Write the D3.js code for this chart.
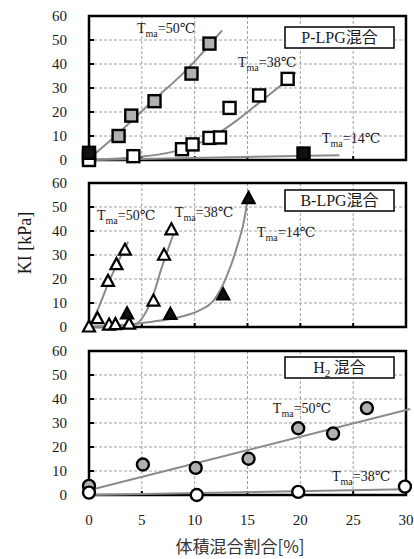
<!DOCTYPE html>
<html>
<head>
<meta charset="utf-8">
<script src="https://cdn.jsdelivr.net/npm/d3@7/dist/d3.min.js"></script>
<style>
body { margin: 0; background: #fff; }
svg text { font-family: "Liberation Serif", "Times New Roman", "DejaVu Serif", serif; fill: #1a1a1a; }
svg text.cjk { font-family: "Liberation Serif", "Noto Sans CJK JP", serif; }
</style>
</head>
<body>
<div id="chart"></div>
<script>
// tick labels
var xTicks = [0, 5, 10, 15, 20, 25, 30];
var yTicks = [0, 10, 20, 30, 40, 50, 60];

// P-LPG  (squares)
var pLpg50 = [[0, 1.5], [2.8, 10], [4, 18.5], [6.2, 24.5], [9.7, 36], [11.4, 48.5]];
var pLpg38 = [[0, 0], [4.2, 1.6], [8.8, 4.5], [9.8, 6.5], [11.4, 9.2], [12.4, 9.4], [13.3, 21.7], [16.1, 26.9], [18.8, 33.8]];
var pLpg14 = [[0, 3], [20.3, 2.7]];
var pLpg50Fit = [[0, 0.5], [3, 12], [6, 24.5], [9, 36.5], [12.6, 54]];
var pLpg38Fit = [[0, 0], [4, 1], [8, 3.5], [10, 6.2], [12, 10.5], [14, 16.5], [16, 23.5], [18, 30.5], [19.6, 36.5]];
var pLpg14Fit = [[0, 0], [23.7, 2]];

// B-LPG  (triangles)
var bLpg50 = [[0, 0], [0.8, 3.5], [1.8, 19], [2.6, 26], [3.4, 32]];
var bLpg38 = [[1.9, 0.8], [2.5, 1], [3.8, 1.2], [6.1, 10.8], [7.1, 29.9], [7.8, 40.5]];
var bLpg14 = [[3.6, 5.5], [7.7, 5.3], [12.7, 13.4], [15.1, 53.5]];
var bLpg50Fit = [[0, 0], [0.9, 8], [1.8, 18], [2.8, 27.5], [3.7, 35.5]];
var bLpg38Fit = [[0, 0], [3, 0.3], [4.3, 0.9], [5.3, 5.5], [5.9, 11], [6.9, 25], [8.1, 40]];
var bLpg14Fit = [[0, 0], [3, 0.8], [6, 2.2], [8.6, 4.2], [10.5, 7], [11.8, 11.1], [13, 20.8], [14, 33.3], [14.8, 47.2], [15.1, 57]];

// H2  (circles)
var h2_50 = [[0, 3.8], [5.1, 12.7], [10.1, 11.3], [15.1, 15.1], [19.8, 27.8], [23.1, 25.6], [26.3, 36.2]];
var h2_38 = [[0, 1], [10.2, 0], [19.8, 1.3], [29.9, 3.5]];
var h2_50Fit = [[0, 2], [30.4, 35.8]];
var h2_38Fit = [[0, 0], [30, 2.4]];

var W = 414, H = 559;
var left = 89, right = 406, panelH = 144;
var panelTops = [16, 183, 351];
var serif = '"Liberation Serif", "Times New Roman", "DejaVu Serif", serif';

var svg = d3.select("#chart").append("svg")
    .attr("width", W)
    .attr("height", H)
    .style("font-family", serif);

var x = d3.scaleLinear().domain([0, 30]).range([left, right]);

var line = d3.line()
    .x(function(d) { return x(d[0]); })
    .curve(d3.curveMonotoneX);

var panels = [
  { title: "P-LPG", sub: null, boxY: 11, shape: "square",
    series: [
      { pts: pLpg50, fill: "#b0b0b0" },
      { pts: pLpg38, fill: "#fff" },
      { pts: pLpg14, fill: "#111" }],
    fits: [pLpg50Fit, pLpg38Fit, pLpg14Fit],
    notes: [[4.54, 52.9, "50"], [14.1, 38.7, "38"], [22.05, 7.1, "14"]] },
  { title: "B-LPG", sub: null, boxY: 7, shape: "triangle",
    series: [
      { pts: bLpg50, fill: "#fff" },
      { pts: bLpg38, fill: "#fff" },
      { pts: bLpg14, fill: "#111" }],
    fits: [bLpg50Fit, bLpg38Fit, bLpg14Fit],
    notes: [[0.76, 44.6, "50"], [8.14, 45.8, "38"], [15.9, 37.5, "14"]] },
  { title: "H", sub: "2", boxY: 6, shape: "circle",
    series: [
      { pts: h2_50, fill: "#b0b0b0" },
      { pts: h2_38, fill: "#fff" }],
    fits: [h2_50Fit, h2_38Fit],
    notes: [[17.4, 34.2, "50"], [23, 5.8, "38"]] }
];

panels.forEach(function(p, i) {
  var top = panelTops[i];
  var y = d3.scaleLinear().domain([0, 60]).range([top + panelH, top]);
  var g = svg.append("g");

  // grid
  g.selectAll(".hg")
    .data(yTicks.slice(1, -1))
    .enter().append("line")
    .attr("x1", left).attr("x2", right)
    .attr("y1", function(d) { return y(d); })
    .attr("y2", function(d) { return y(d); })
    .attr("stroke", "#a0a0a0")
    .attr("stroke-width", 1)
    .attr("stroke-dasharray", "3,2");

  g.selectAll(".vg")
    .data(xTicks.slice(1, -1))
    .enter().append("line")
    .attr("y1", top).attr("y2", top + panelH)
    .attr("x1", function(d) { return x(d); })
    .attr("x2", function(d) { return x(d); })
    .attr("stroke", "#a0a0a0")
    .attr("stroke-width", 1)
    .attr("stroke-dasharray", "3,2");

  // inward ticks
  g.selectAll(".yt")
    .data(yTicks)
    .enter().append("line")
    .attr("x1", left).attr("x2", left + 5)
    .attr("y1", function(d) { return y(d); })
    .attr("y2", function(d) { return y(d); })
    .attr("stroke", "#000")
    .attr("stroke-width", 2);

  g.selectAll(".xt")
    .data(xTicks)
    .enter().append("line")
    .attr("y1", top + panelH).attr("y2", top + panelH - 4)
    .attr("x1", function(d) { return x(d); })
    .attr("x2", function(d) { return x(d); })
    .attr("stroke", "#000")
    .attr("stroke-width", 2);

  // frame
  g.append("rect")
    .attr("x", left).attr("y", top)
    .attr("width", right - left).attr("height", panelH)
    .attr("fill", "none")
    .attr("stroke", "#000")
    .attr("stroke-width", 2.5);

  // y tick labels
  g.selectAll(".yl")
    .data(yTicks)
    .enter().append("text")
    .attr("x", 67)
    .attr("y", function(d) { return y(d) + 5; })
    .attr("text-anchor", "end")
    .style("font-family", serif)
    .style("font-size", "15px")
    .text(function(d) { return d; });

  // fit curves
  line.y(function(d) { return y(d[1]); });
  g.selectAll(".fit")
    .data(p.fits)
    .enter().append("path")
    .attr("d", line)
    .attr("fill", "none")
    .attr("stroke", "#8a8a8a")
    .attr("stroke-width", 2);

  // markers
  p.series.forEach(function(s) {
    var m = g.selectAll(null)
      .data(s.pts)
      .enter();
    if (p.shape == "square") {
      m.append("rect")
        .attr("x", function(d) { return x(d[0]) - 6; })
        .attr("y", function(d) { return y(d[1]) - 6; })
        .attr("width", 12).attr("height", 12)
        .attr("fill", s.fill)
        .attr("stroke", "#000")
        .attr("stroke-width", 2.4);
    } else if (p.shape == "triangle") {
      m.append("path")
        .attr("d", function(d) {
          var cx = x(d[0]), cy = y(d[1]);
          return "M" + cx + "," + (cy - 6.5) + "L" + (cx + 6) + "," + (cy + 4.5) + "L" + (cx - 6) + "," + (cy + 4.5) + "Z";
        })
        .attr("fill", s.fill)
        .attr("stroke", "#000")
        .attr("stroke-width", 2.2);
    } else {
      m.append("circle")
        .attr("cx", function(d) { return x(d[0]); })
        .attr("cy", function(d) { return y(d[1]); })
        .attr("r", 6)
        .attr("fill", s.fill)
        .attr("stroke", "#000")
        .attr("stroke-width", 2.4);
    }
  });

  // Tma notes
  p.notes.forEach(function(n) {
    var t = g.append("text")
      .attr("x", x(n[0]))
      .attr("y", y(n[1]))
      .style("font-family", serif)
      .style("font-size", "14px");
    t.append("tspan").text("T");
    t.append("tspan").attr("dy", 4).style("font-size", "10px").text("ma");
    t.append("tspan").attr("dy", -4).text("=" + n[2] + "℃");
  });

  // title box
  g.append("rect")
    .attr("x", 285).attr("y", top + p.boxY)
    .attr("width", 109).attr("height", 21)
    .attr("fill", "#fff")
    .attr("stroke", "#000")
    .attr("stroke-width", 1.5);

  var tt = g.append("text")
    .attr("x", 339.5)
    .attr("y", top + p.boxY + 16)
    .attr("text-anchor", "middle")
    .style("font-family", serif)
    .style("font-size", "16px");
  tt.append("tspan").text(p.title);
  if (p.sub) {
    tt.append("tspan").attr("dy", 4).style("font-size", "11px").text(p.sub);
    tt.append("tspan").attr("dy", -4).style("font-family", '"Noto Sans CJK JP"').text(" 混合");
  } else {
    tt.append("tspan").style("font-family", '"Noto Sans CJK JP"').text("混合");
  }
});

// x tick labels (bottom panel)
var bottom = panelTops[2] + panelH;
svg.selectAll(".xl")
  .data(xTicks)
  .enter().append("text")
  .attr("x", function(d) { return x(d); })
  .attr("y", bottom + 30)
  .attr("text-anchor", "middle")
  .style("font-family", serif)
  .style("font-size", "15px")
  .text(function(d) { return d; });

svg.append("text")
  .attr("x", 240)
  .attr("y", 553)
  .attr("text-anchor", "middle")
  .style("font-family", '"Noto Sans CJK JP", sans-serif')
  .style("font-size", "17px")
  .style("fill", "#333")
  .text("体積混合割合[%]");

svg.append("text")
  .attr("transform", "translate(31,243) rotate(-90)")
  .attr("text-anchor", "middle")
  .style("font-family", serif)
  .style("font-size", "18px")
  .text("KI [kPa]");
</script>
</body>
</html>
